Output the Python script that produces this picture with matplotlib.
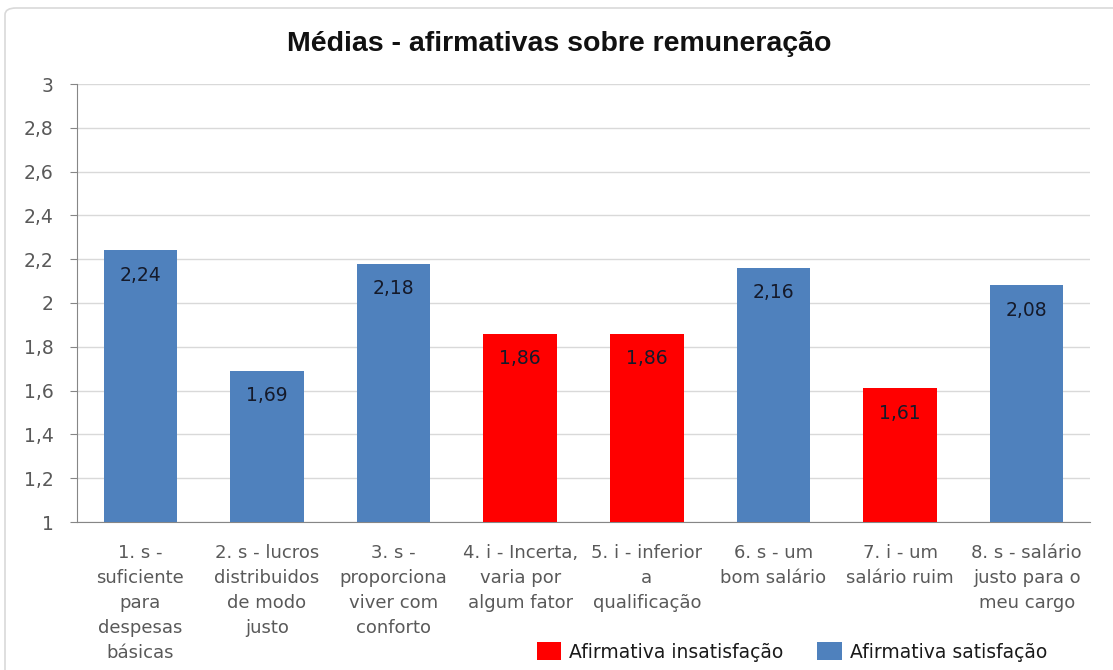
import matplotlib
matplotlib.use("Agg")
import matplotlib.pyplot as plt
from matplotlib.patches import FancyBboxPatch, Patch
from matplotlib.ticker import FuncFormatter

FONT = "DejaVu Sans"
plt.rcParams["font.family"] = "sans-serif"
plt.rcParams["font.sans-serif"] = [FONT]

categories = [
    "1. s -\nsuficiente\npara\ndespesas\nbásicas",
    "2. s - lucros\ndistribuidos\nde modo\njusto",
    "3. s -\nproporciona\nviver com\nconforto",
    "4. i - Incerta,\nvaria por\nalgum fator",
    "5. i - inferior\na\nqualificação",
    "6. s - um\nbom salário",
    "7. i - um\nsalário ruim",
    "8. s - salário\njusto para o\nmeu cargo",
]
values = [2.24, 1.69, 2.18, 1.86, 1.86, 2.16, 1.61, 2.08]
kinds = ["s", "s", "s", "i", "i", "s", "i", "s"]
yticks = [1, 1.2, 1.4, 1.6, 1.8, 2, 2.2, 2.4, 2.6, 2.8, 3]
title = "Médias - afirmativas sobre remuneração"
legend_labels = ["Afirmativa insatisfação", "Afirmativa satisfação"]

RED = "#FF0000"
BLUE = "#4F81BD"
GRAY = "#595959"

fig = plt.figure(figsize=(11.13, 6.70), dpi=100)
fig.patch.set_facecolor("white")
border = FancyBboxPatch((5/1113, -0.02), 1.2, 1 - 8/670 + 0.02,
                        boxstyle="round,pad=0,rounding_size=0.01",
                        transform=fig.transFigure, facecolor="white",
                        edgecolor="#D9D9D9", linewidth=1.2, zorder=-5)
fig.patches.append(border)

ax = fig.add_axes([77/1113, 1 - 522/670, (1090 - 77)/1113, (522 - 84)/670])
ax.set_zorder(5)
ax.set_facecolor("none")
x = list(range(len(values)))
colors = [RED if k == "i" else BLUE for k in kinds]
bars = ax.bar(x, values, width=0.58, color=colors, zorder=3)
ax.set_ylim(1, 3)
ax.set_xlim(-0.5, len(values) - 0.5)
ax.set_yticks(yticks)
ax.yaxis.set_major_formatter(FuncFormatter(lambda v, p: f"{v:g}".replace(".", ",")))
ax.grid(axis="y", color="#D9D9D9", linewidth=1, zorder=0)
ax.set_axisbelow(True)
for s in ["top", "right"]:
    ax.spines[s].set_visible(False)
for s in ["left", "bottom"]:
    ax.spines[s].set_color("#868686")
ax.tick_params(axis="y", colors="#868686", labelcolor=GRAY, labelsize=13.5, length=5, pad=12)
ax.tick_params(axis="x", length=0, pad=16)
ax.set_xticks(x)
ax.set_xticklabels(categories, fontsize=13, color=GRAY, linespacing=1.5, va="top",
                   fontfamily=FONT)
for lbl in ax.get_yticklabels():
    lbl.set_fontfamily(FONT)

for xi, v in zip(x, values):
    ax.annotate(f"{v:.2f}".replace(".", ","), (xi, v), xytext=(0, -18),
                textcoords="offset points", ha="center", va="center",
                fontsize=13.5, color="#151a2a", zorder=4, fontfamily=FONT)

fig.text(559/1113, 1 - 44/670, title, ha="center", va="center", fontsize=20.5,
         fontweight="bold", family="Liberation Sans", color="#111111")

handles = [Patch(facecolor=RED), Patch(facecolor=BLUE)]
fig.legend(handles, legend_labels, loc="center", bbox_to_anchor=(792/1113, 1 - 652/670),
           ncol=2, frameon=False, handlelength=1.3, handleheight=1.1,
           columnspacing=1.8, handletextpad=0.45, labelcolor="#1a1a1a",
           prop={"family": FONT, "size": 13.5})

fig.savefig("out.png", dpi=100, facecolor="white")
